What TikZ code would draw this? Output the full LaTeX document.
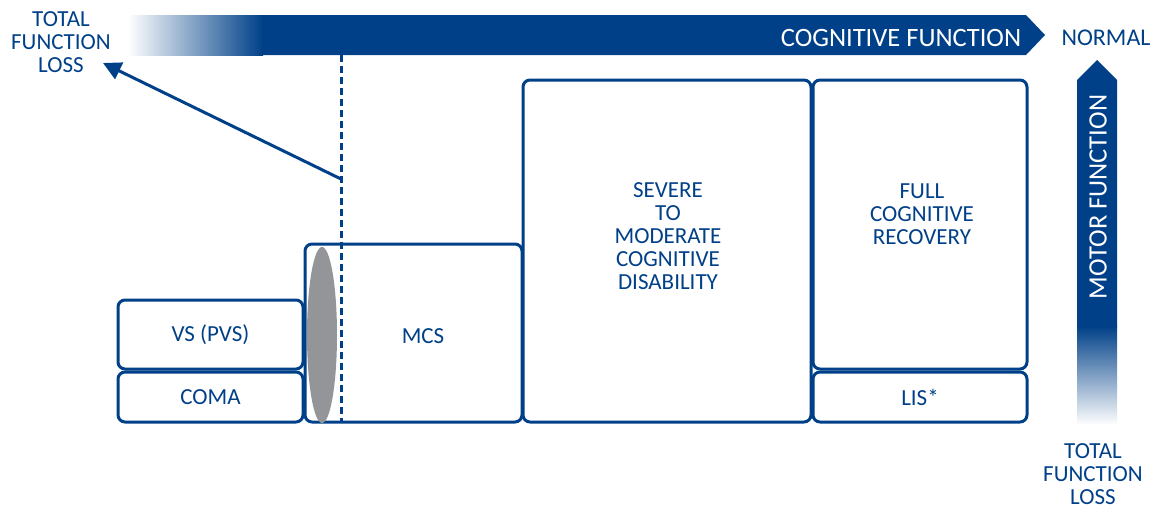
\documentclass[tikz,border=0pt]{standalone}
\usepackage{fontspec}
\setmainfont{Carlito}
\usetikzlibrary{arrows.meta,shapes.geometric}
\definecolor{dblue}{RGB}{0,64,136}
\definecolor{egray}{RGB}{147,149,152}
\tikzset{
  box/.style={draw=dblue, line width=3pt, rounded corners=7pt, fill=white, inner sep=0pt, outer sep=0pt, text=dblue, font=\fontsize{23}{23}\selectfont},
  lbl/.style={text=dblue, font=\fontsize{23}{23}\selectfont, align=center, inner sep=0pt},
  wlbl/.style={text=white, font=\fontsize{26.5}{26.5}\selectfont, inner sep=0pt},
}
\begin{document}
\begin{tikzpicture}[x=1pt,y=-1pt]
\useasboundingbox (0,0) rectangle (1151,509);
% top bar
\shade[left color=white, right color=dblue] (128,15) rectangle (263,55);
\fill[dblue] (262,15) -- (1026,15) -- (1045,35) -- (1026,55) -- (262,55) -- cycle;
\node[wlbl] (cog) at (901,38) {COGNITIVE FUNCTION};
\node[lbl, font=\fontsize{24}{24}\selectfont] (normal) at (1106,38) {NORMAL};
% vertical bar
\shade[top color=dblue, bottom color=white] (1077,326) rectangle (1117,425);
\fill[dblue] (1077,327) -- (1077,80) -- (1097,60) -- (1117,80) -- (1117,327) -- cycle;
\node[wlbl, rotate=90] (motor) at (1098,197) {MOTOR FUNCTION};
% labels
\node[lbl] (tflTop) at (61,42) {TOTAL\\FUNCTION\\LOSS};
\node[lbl] (tflBot) at (1093,474) {TOTAL\\FUNCTION\\LOSS};
% boxes
\node[box, minimum width=185pt, minimum height=69pt] (vs) at (210.5,334.5) {VS (PVS)};
\node[box, minimum width=185pt, minimum height=50pt] (coma) at (210.5,397) {COMA};
\node[box, minimum width=217pt, minimum height=178pt] (mcs) at (413.5,333) {};
\node[box, minimum width=288pt, minimum height=342pt] (sev) at (667,251) {};
\node[box, minimum width=214pt, minimum height=289pt] (full) at (920,224.5) {};
\node[box, minimum width=214pt, minimum height=50pt] (lis) at (920,397) {LIS*};
\node[lbl] (mcsT) at (423,336) {MCS};
\node[lbl] (sevT) at (668,236) {SEVERE\\TO\\MODERATE\\COGNITIVE\\DISABILITY};
\node[lbl] (fullT) at (922,214) {FULL\\COGNITIVE\\RECOVERY};
% ellipse
\node[ellipse, fill=egray, minimum width=30pt, minimum height=176pt, inner sep=0pt] (ell) at (322,335) {};
% dashed line and arrow
\coordinate (dTop) at (341,55);
\coordinate (dBot) at (341,423);
\coordinate (aStart) at (341,179);
\coordinate (aEnd) at (103,63);
\draw[dblue, line width=3pt, dash pattern=on 7pt off 4pt] (dTop) -- (dBot);
\draw[dblue, line width=3pt, -{Triangle[length=18pt,width=18pt]}] (aStart) -- (aEnd);
\end{tikzpicture}
\end{document}
